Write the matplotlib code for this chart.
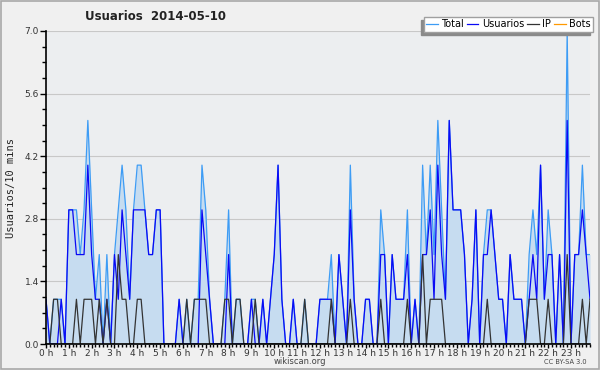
import numpy as np
import matplotlib
matplotlib.use("Agg")
import matplotlib.pyplot as plt
from matplotlib.ticker import MultipleLocator

# 10-minute buckets over one day (144 values)
total = [1, 0, 1, 1, 1, 0, 3, 3, 3, 2, 3, 5, 3, 1, 2, 0, 2, 0, 2, 3, 4, 3, 1, 3,
         4, 4, 3, 2, 2, 3, 3, 0, 0, 0, 0, 1, 0, 1, 0, 1, 1, 4, 3, 1, 0, 0, 0, 1,
         3, 0, 1, 1, 0, 0, 1, 1, 0, 1, 0, 1, 2, 4, 1, 0, 0, 1, 0, 0, 1, 0, 0, 0,
         1, 1, 1, 2, 0, 2, 1, 0, 4, 1, 0, 0, 1, 1, 0, 0, 3, 2, 0, 2, 1, 1, 1, 3,
         0, 1, 0, 4, 2, 4, 2, 5, 3, 1, 5, 3, 3, 3, 2, 0, 1, 3, 0, 2, 3, 3, 2, 1,
         1, 0, 2, 1, 1, 1, 0, 2, 3, 2, 4, 1, 3, 2, 0, 2, 0, 7, 0, 2, 2, 4, 2, 2]
usuarios = [1, 0, 0, 0, 1, 0, 3, 3, 2, 2, 2, 4, 2, 1, 1, 0, 1, 0, 2, 1, 3, 2, 1, 3,
            3, 3, 3, 2, 2, 3, 3, 0, 0, 0, 0, 1, 0, 0, 0, 0, 0, 3, 2, 1, 0, 0, 0, 0,
            2, 0, 0, 0, 0, 0, 1, 0, 0, 1, 0, 1, 2, 4, 1, 0, 0, 1, 0, 0, 0, 0, 0, 0,
            1, 1, 1, 1, 0, 2, 1, 0, 3, 1, 0, 0, 1, 1, 0, 0, 2, 2, 0, 2, 1, 1, 1, 2,
            0, 1, 0, 2, 2, 3, 1, 4, 2, 1, 5, 3, 3, 3, 2, 0, 1, 3, 0, 2, 2, 3, 2, 1,
            1, 0, 2, 1, 1, 1, 0, 1, 2, 1, 4, 1, 2, 2, 0, 2, 0, 5, 0, 2, 2, 3, 2, 1]
ip = [0, 0, 1, 1, 0, 0, 0, 0, 1, 0, 1, 1, 1, 0, 1, 0, 1, 0, 0, 2, 1, 1, 0, 0,
      1, 1, 0, 0, 0, 0, 0, 0, 0, 0, 0, 0, 0, 1, 0, 1, 1, 1, 1, 0, 0, 0, 0, 1,
      1, 0, 1, 1, 0, 0, 0, 1, 0, 0, 0, 0, 0, 0, 0, 0, 0, 0, 0, 0, 1, 0, 0, 0,
      0, 0, 0, 1, 0, 0, 0, 0, 1, 0, 0, 0, 0, 0, 0, 0, 1, 0, 0, 0, 0, 0, 0, 1,
      0, 0, 0, 2, 0, 1, 1, 1, 1, 0, 0, 0, 0, 0, 0, 0, 0, 0, 0, 0, 1, 0, 0, 0,
      0, 0, 0, 0, 0, 0, 0, 1, 1, 1, 0, 0, 1, 0, 0, 0, 0, 2, 0, 0, 0, 1, 0, 1]
bots = [0] * 144

hours = np.arange(len(total)) / 6.0
hour_labels = [f"{h} h" for h in range(24)]

fig = plt.figure(figsize=(6, 3.7), dpi=100, facecolor="#f0f0f0")
ax = fig.add_axes([46 / 600, 1 - 344 / 370, 544 / 600, 313 / 370])
ax.set_facecolor("#eceef0")

# borde exterior
fig.patches.append(plt.Rectangle((0.001, 0.002), 0.997, 0.995, transform=fig.transFigure,
                                 fill=False, edgecolor="#a8a8a8", lw=1.2))

ax.fill_between(hours, total, 0, color="#c6dcf0", lw=0, zorder=1)
ax.plot(hours, bots, color="#ff9900", lw=0.9, zorder=1.5)
l_tot, = ax.plot(hours, total, color="#3d9cf5", lw=0.9, zorder=2)
l_usr, = ax.plot(hours, usuarios, color="#0a0af5", lw=0.9, zorder=3)
l_ip, = ax.plot(hours, ip, color="#333333", lw=0.9, zorder=4)
l_bot = plt.Line2D([], [], color="#ff9900", lw=0.9)

ax.set_xlim(0, hours[-1])
ax.set_ylim(0, 7.0)
ax.set_yticks(np.arange(0, 7.01, 1.4))
ax.set_yticklabels([f"{v:.1f}" for v in np.arange(0, 7.01, 1.4)])
ax.yaxis.set_minor_locator(MultipleLocator(0.35))
ax.set_xticks(range(24))
ax.set_xticklabels(hour_labels)
ax.xaxis.set_minor_locator(MultipleLocator(1 / 6))
ax.grid(axis="y", which="major", color="#c8c8c8", lw=0.8)
ax.set_axisbelow(True)

for s in ["top", "right"]:
    ax.spines[s].set_visible(False)
for s in ["left", "bottom"]:
    ax.spines[s].set_color("black")
    ax.spines[s].set_linewidth(1.2)
    ax.spines[s].set_zorder(5)

ax.tick_params(axis="y", which="major", direction="out", length=4, width=1,
               labelsize=6.5, labelcolor="#333333", pad=1)
ax.tick_params(axis="y", which="minor", direction="out", length=3, width=1)
ax.tick_params(axis="x", which="major", direction="out", length=3, width=1,
               labelsize=6.5, labelcolor="#333333", pad=0.5)
ax.tick_params(axis="x", which="minor", direction="out", length=2.5, width=1)

ax.set_ylabel("Usuarios/10 mins", family="DejaVu Sans Mono", fontsize=7.5,
              color="#222222", labelpad=6)

fig.text(85 / 600, 1 - 17 / 370, "Usuarios  2014-05-10", fontsize=8.5,
         fontweight="bold", ha="left", va="center", color="#222222")
fig.text(300 / 600, 1 - 362 / 370, "wikiscan.org", fontsize=6, ha="center",
         va="center", color="#444444")
fig.text(565 / 600, 1 - 362 / 370, "CC BY-SA 3.0", fontsize=4.8, ha="center",
         va="center", color="#444444")

leg = fig.legend([l_tot, l_usr, l_ip, l_bot], ["Total", "Usuarios", "IP", "Bots"],
                 loc="upper right", bbox_to_anchor=(593 / 600, 1 - 17 / 370),
                 ncol=4, fontsize=7, frameon=True, fancybox=False,
                 shadow={"ox": -2.2, "oy": -2.2, "color": "#8a8a8a", "alpha": 1},
                 handlelength=1.2, handletextpad=0.35, columnspacing=0.3,
                 borderpad=0.25, borderaxespad=0)
leg.get_frame().set_edgecolor("#a0a0a0")
leg.get_frame().set_facecolor("white")
leg.get_frame().set_alpha(1)

fig.savefig("out.png", dpi=100, facecolor=fig.get_facecolor())
